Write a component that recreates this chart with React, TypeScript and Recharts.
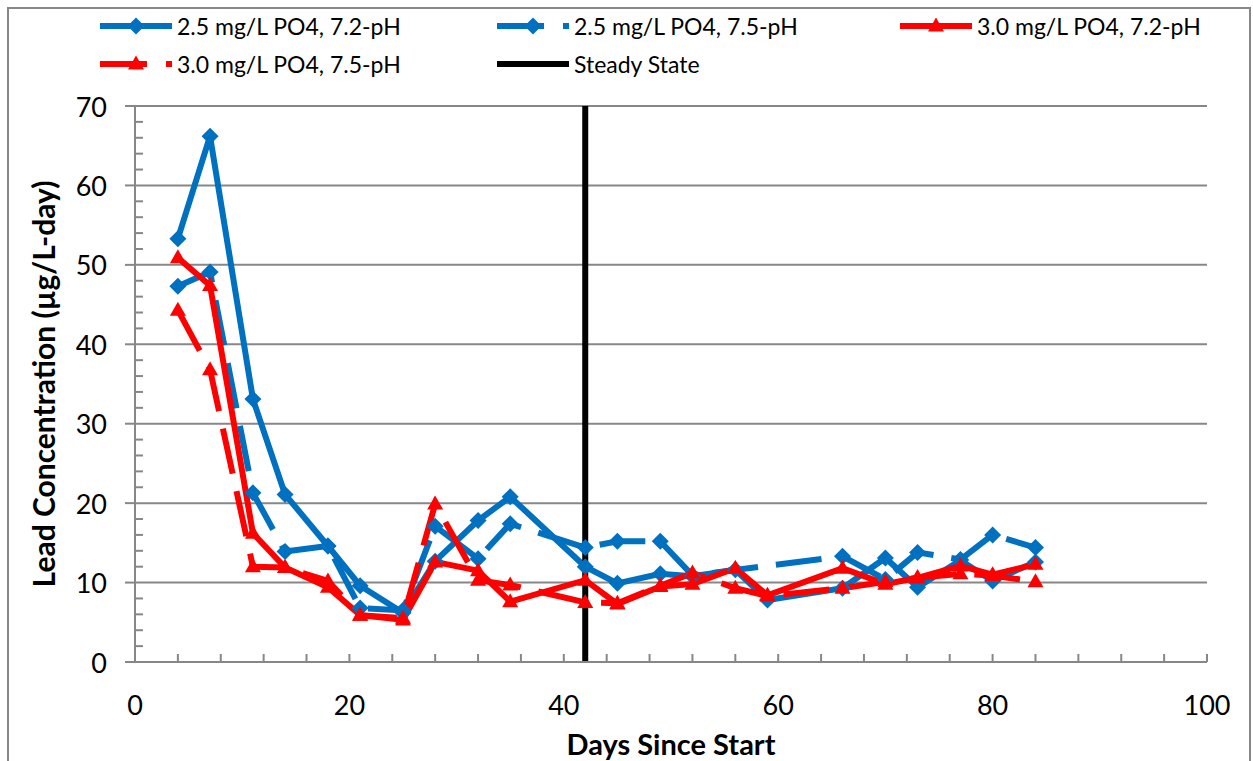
import React from 'react';
import { LineChart, Line, XAxis, YAxis, ReferenceLine, Label } from 'recharts';

// days since start, sampling points shared by all four runs
const days = [4, 7, 11, 14, 18, 21, 25, 28, 32, 35, 42, 45, 49, 52, 56, 59, 66, 70, 73, 77, 80, 84];

// lead concentration (µg/L-day)
const po25ph72 = [53.3, 66.2, 33.1, 21.1, 14.6, 9.6, 6.2, 12.7, 17.8, 20.8, 12.0, 9.9, 11.1, 10.8, 11.6, 7.8, 9.3, 13.1, 9.4, 12.8, 10.2, 12.6];
const po25ph75 = [47.3, 49.1, 21.3, 13.9, 14.6, 6.8, 6.5, 17.1, 13.0, 17.4, 14.4, 15.2, 15.2, 10.9, null, null, 13.3, 10.4, 13.8, 12.9, 16.0, 14.4];
const po30ph72 = [50.9, 47.4, 16.2, 11.9, 9.4, 5.9, 5.3, 12.6, 11.5, 7.6, 10.3, 7.3, 9.5, 9.8, 11.8, 8.4, 11.8, 9.8, 10.6, 12.1, 11.0, 12.3];
const po30ph75 = [44.3, 36.8, 12.0, 11.9, 10.2, 5.9, 5.5, 19.9, 10.3, 9.7, 7.5, 7.4, 9.6, 11.2, 9.3, 8.3, 9.3, 10.1, 10.6, 11.1, 10.9, 10.1];

const steadyStateDay = 42;

const xTicks = [0, 4, 8, 12, 16, 20, 24, 28, 32, 36, 40, 44, 48, 52, 56, 60, 64, 68, 72, 76, 80, 84, 88, 92, 96, 100];
const yTicks = [0, 2, 4, 6, 8, 10, 12, 14, 16, 18, 20, 22, 24, 26, 28, 30, 32, 34, 36, 38, 40, 42, 44, 46, 48, 50, 52, 54, 56, 58, 60, 62, 64, 66, 68, 70];
const yGrid = [10, 20, 30, 40, 50, 60, 70];

const BLUE = '#0070C0';
const RED = '#FF0000';
const GRAY = '#878787';
const FONT = 'Lato, "Open Sans", sans-serif';
const DASH = '46 18';

const data = days.map((d, i) => ({
  day: d,
  a: po25ph72[i],
  b: po25ph75[i],
  c: po30ph72[i],
  d: po30ph75[i],
}));

const series = [
  { key: 'a', name: '2.5 mg/L PO4, 7.2-pH', color: BLUE, dashed: false, marker: 'diamond' },
  { key: 'b', name: '2.5 mg/L PO4, 7.5-pH', color: BLUE, dashed: true, marker: 'diamond' },
  { key: 'c', name: '3.0 mg/L PO4, 7.2-pH', color: RED, dashed: false, marker: 'triangle' },
  { key: 'd', name: '3.0 mg/L PO4, 7.5-pH', color: RED, dashed: true, marker: 'triangle' },
];

const marker = (kind: string, cx: number, cy: number, color: string, key?: string) => {
  if (kind === 'diamond') {
    const r = 8.5;
    return <path key={key} d={`M${cx},${cy - r}L${cx + r},${cy}L${cx},${cy + r}L${cx - r},${cy}Z`} fill={color} />;
  }
  return <path key={key} d={`M${cx},${cy - 8.5}L${cx + 8},${cy + 5.5}L${cx - 8},${cy + 5.5}Z`} fill={color} />;
};

const makeDot = (kind: string, color: string) => (p: any) => {
  const k = `${kind}-${color}-${p.index}`;
  if (p.cx == null || p.cy == null || p.value == null) return <g key={k} />;
  return marker(kind, p.cx, p.cy, color, k);
};

const XTick = (props: any) => {
  const { x, y, payload } = props;
  const v = payload.value;
  return (
    <g>
      <line x1={x} x2={x} y1={y} y2={y - 8} stroke={GRAY} strokeWidth={2} />
      {v % 20 === 0 && (
        <text x={x} y={y + 42} textAnchor="middle" dominantBaseline="central" fontSize={27} fontFamily={FONT} fill="#000">
          {v}
        </text>
      )}
    </g>
  );
};

const YTick = (props: any) => {
  const { x, y, payload } = props;
  const v = payload.value;
  const major = v % 10 === 0;
  return (
    <g>
      {major ? (
        <line x1={x - 10} x2={x} y1={y} y2={y} stroke={GRAY} strokeWidth={2} />
      ) : (
        <line x1={x} x2={x + 8} y1={y} y2={y} stroke={GRAY} strokeWidth={2} />
      )}
      {major && (
        <text x={x - 28} y={y} textAnchor="end" dominantBaseline="central" fontSize={27} fontFamily={FONT} fill="#000">
          {v}
        </text>
      )}
    </g>
  );
};

const legendRows = [
  [
    { x: 100, item: series[0] },
    { x: 497, item: series[1] },
    { x: 900, item: series[2] },
  ],
  [
    { x: 100, item: series[3] },
    { x: 497, item: { key: 'ss', name: 'Steady State', color: '#000', dashed: false, marker: '' } },
  ],
];

const ChartLegend = () => (
  <svg width={1253} height={90} style={{ position: 'absolute', left: 0, top: 0 }}>
    {legendRows.map((row, r) =>
      row.map(({ x, item }) => {
        const y = 26 + r * 38;
        return (
          <g key={item.key}>
            <line
              x1={x}
              x2={x + 72}
              y1={y}
              y2={y}
              stroke={item.color}
              strokeWidth={6}
              strokeDasharray={item.dashed ? '47 19' : undefined}
            />
            {item.marker && marker(item.marker, x + 36, y, item.color)}
            <text x={x + 77} y={y} dominantBaseline="central" fontSize={23} fontFamily={FONT} fill="#000">
              {item.name}
            </text>
          </g>
        );
      })
    )}
  </svg>
);

export default function App() {
  return (
    <div
      style={{
        position: 'absolute',
        left: 0,
        top: 0,
        width: 1253,
        height: 761,
        overflow: 'hidden',
        background: '#fff',
        fontFamily: FONT,
      }}
    >
      <div
        style={{
          position: 'absolute',
          left: 7,
          top: 7,
          width: 1240,
          height: 800,
          border: `2px solid ${GRAY}`,
        }}
      />
      <ChartLegend />
      <div style={{ position: 'absolute', left: 0, top: 0 }}>
        <LineChart width={1253} height={761} data={data} margin={{ top: 106, right: 46, bottom: 0, left: 0 }}>
          <XAxis
            type="number"
            dataKey="day"
            domain={[0, 100]}
            ticks={xTicks}
            interval={0}
            height={99}
            tickSize={0}
            tickMargin={0}
            tickLine={false}
            axisLine={{ stroke: GRAY, strokeWidth: 2 }}
            tick={<XTick />}
            allowDataOverflow
          >
            <Label
              value="Days Since Start"
              position="insideBottom"
              offset={6}
              fontSize={29}
              fontWeight="bold"
              fontFamily={FONT}
              fill="#000"
            />
          </XAxis>
          <YAxis
            type="number"
            domain={[0, 70]}
            ticks={yTicks}
            interval={0}
            width={135}
            tickSize={0}
            tickMargin={0}
            tickLine={false}
            axisLine={{ stroke: GRAY, strokeWidth: 2 }}
            tick={<YTick />}
            allowDataOverflow
          >
            <Label
              value="Lead Concentration (µg/L-day)"
              position="insideLeft"
              angle={-90}
              offset={0}
              dx={44}
              fontSize={30}
              fontWeight="bold"
              fontFamily={FONT}
              fill="#000"
              textAnchor="middle"
            />
          </YAxis>
          {yGrid.map((v) => (
            <ReferenceLine key={v} y={v} stroke={GRAY} strokeWidth={2} />
          ))}
          {series.map((s) => (
            <Line
              key={s.key}
              type="linear"
              dataKey={s.key}
              name={s.name}
              stroke={s.color}
              strokeWidth={6}
              strokeDasharray={s.dashed ? DASH : undefined}
              dot={makeDot(s.marker, s.color)}
              activeDot={false}
              connectNulls
              isAnimationActive={false}
            />
          ))}
          <ReferenceLine x={steadyStateDay} stroke="#000" strokeWidth={6} />
        </LineChart>
      </div>
    </div>
  );
}
